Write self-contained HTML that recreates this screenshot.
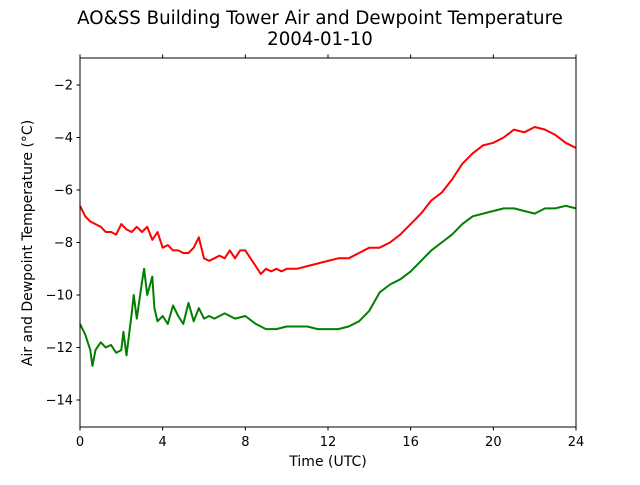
<!DOCTYPE html>
<html><head><meta charset="utf-8"><style>
body{margin:0;background:#fff;}
svg text{font-family:"DejaVu Sans","Liberation Sans",sans-serif;fill:#000;}
</style></head><body>
<svg id="chart" width="640" height="480" xmlns="http://www.w3.org/2000/svg">
<text x="320" y="24" font-size="18.2" text-anchor="middle">AO&amp;SS Building Tower Air and Dewpoint Temperature</text>
<text x="320" y="45" font-size="18.2" text-anchor="middle">2004-01-10</text>
<g id="plot"></g>
<rect x="80" y="58" width="496" height="369" fill="none" stroke="#000" stroke-width="1"/>
<g id="axes"></g>
<text x="328" y="466" font-size="14" text-anchor="middle">Time (UTC)</text>
<text transform="translate(32,243) rotate(-90)" font-size="14" text-anchor="middle">Air and Dewpoint Temperature (°C)</text>
</svg>
<script>
const xTicks=[0,4,8,12,16,20,24];
const yTicks=[-2,-4,-6,-8,-10,-12,-14];
const airTimes=[0,0.25,0.5,0.75,1,1.25,1.5,1.75,2,2.25,2.5,2.75,3,3.25,3.5,3.75,4,4.25,4.5,4.75,5,5.25,5.5,5.75,6,6.25,6.5,6.75,7,7.25,7.5,7.75,8,8.25,8.5,8.75,9,9.25,9.5,9.75,10,10.5,11,11.5,12,12.5,13,13.5,14,14.5,15,15.5,16,16.5,17,17.5,18,18.5,19,19.5,20,20.5,21,21.5,22,22.5,23,23.5,24];
const airTemp=[-6.6,-7.0,-7.2,-7.3,-7.4,-7.6,-7.6,-7.7,-7.3,-7.5,-7.6,-7.4,-7.6,-7.4,-7.9,-7.6,-8.2,-8.1,-8.3,-8.3,-8.4,-8.4,-8.2,-7.8,-8.6,-8.7,-8.6,-8.5,-8.6,-8.3,-8.6,-8.3,-8.3,-8.6,-8.9,-9.2,-9.0,-9.1,-9.0,-9.1,-9.0,-9.0,-8.9,-8.8,-8.7,-8.6,-8.6,-8.4,-8.2,-8.2,-8.0,-7.7,-7.3,-6.9,-6.4,-6.1,-5.6,-5.0,-4.6,-4.3,-4.2,-4.0,-3.7,-3.8,-3.6,-3.7,-3.9,-4.2,-4.4];
const dewTimes=[0,0.25,0.5,0.6,0.75,1,1.25,1.5,1.75,2,2.1,2.25,2.5,2.6,2.75,3,3.1,3.25,3.5,3.6,3.75,4,4.25,4.5,4.75,5,5.25,5.5,5.75,6,6.25,6.5,7,7.5,8,8.5,9,9.5,10,10.5,11,11.5,12,12.5,13,13.5,14,14.5,15,15.5,16,16.5,17,17.5,18,18.5,19,19.5,20,20.5,21,21.5,22,22.5,23,23.5,24];
const dewTemp=[-11.1,-11.5,-12.1,-12.7,-12.1,-11.8,-12.0,-11.9,-12.2,-12.1,-11.4,-12.3,-10.7,-10.0,-10.9,-9.5,-9.0,-10.0,-9.3,-10.5,-11.0,-10.8,-11.1,-10.4,-10.8,-11.1,-10.3,-11.0,-10.5,-10.9,-10.8,-10.9,-10.7,-10.9,-10.8,-11.1,-11.3,-11.3,-11.2,-11.2,-11.2,-11.3,-11.3,-11.3,-11.2,-11.0,-10.6,-9.9,-9.6,-9.4,-9.1,-8.7,-8.3,-8.0,-7.7,-7.3,-7.0,-6.9,-6.8,-6.7,-6.7,-6.8,-6.9,-6.7,-6.7,-6.6,-6.7];
const NS='http://www.w3.org/2000/svg';
const X=t=>80+t*(496/24);
const Y=v=>58.75+(-1-v)*26.25;
const axes=document.getElementById('axes'),plot=document.getElementById('plot');
function mk(tag,attrs,parent){const e=document.createElementNS(NS,tag);for(const k in attrs)e.setAttribute(k,attrs[k]);parent.appendChild(e);return e;}
xTicks.forEach(t=>{
  const l=mk('line',{x1:X(t),x2:X(t),y1:427,y2:430.5,stroke:'#000'},axes);
  
  
  const l2=mk('line',{x1:X(t),x2:X(t),y1:58,y2:54.5,stroke:'#000'},axes);
  
  
  const tx=mk('text',{x:X(t),y:446,'font-size':13,'text-anchor':'middle'},axes);tx.textContent=t;
  
  
});
yTicks.forEach(v=>{
  const l=mk('line',{x1:76.5,x2:80,y1:Y(v),y2:Y(v),stroke:'#000'},axes);
  
  
  const tx=mk('text',{x:73,y:Y(v)+4.5,'font-size':13,'text-anchor':'end'},axes);tx.textContent='\u2212'+Math.abs(v);
  
  
});
function line(ts,vs,color,name){
  const d=ts.map((t,i)=>(i?'L':'M')+X(t).toFixed(1)+','+Y(vs[i]).toFixed(1)).join('');
  const p=mk('path',{d:d,fill:'none',stroke:color,'stroke-width':2,'stroke-linejoin':'round'},plot);
  
  
}
line(airTimes,airTemp,'#ff0000','air-temperature-line');
line(dewTimes,dewTemp,'#008000','dewpoint-temperature-line');
</script>
</body></html>
